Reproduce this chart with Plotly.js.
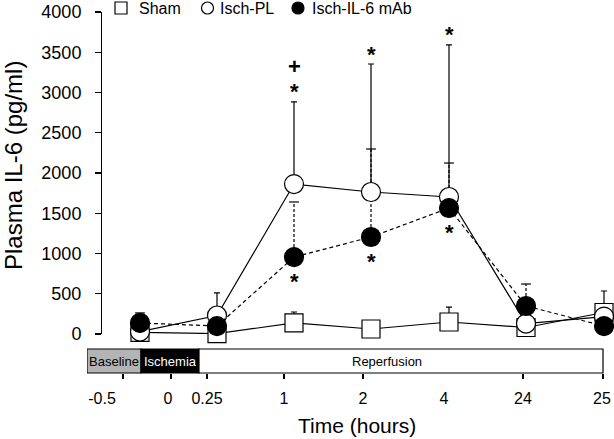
<!DOCTYPE html>
<html><head><meta charset="utf-8">
<script src="https://cdn.plot.ly/plotly-3.0.1.min.js"></script>
<style>html,body{margin:0;padding:0;background:#fff}#chart{width:614px;height:439px}</style>
</head><body><div id="chart"></div>
<script>
// ---------------- data ----------------
const sampleTimes = ['Baseline', '0.33', '1', '2', '4', '24', '25'];
const tickLabels  = ['-0.5', '0', '0.25', '1', '2', '4', '24', '25'];
const phaseNames  = ['Baseline', 'Ischemia', 'Reperfusion'];
const seriesNames = ['Sham', 'Isch-PL', 'Isch-IL-6 mAb'];
const sham       = [20, 5, 137, 62, 149, 81, 267];
const shamErr    = [0, 0, 136, 0, 186, 0, 267];
const ischPL     = [30, 230, 1863, 1764, 1702, 130, 217];
const ischPLErr  = [0, 280, 1020, 1590, 1890, 0, 0];
const ischIL6    = [137, 99, 956, 1205, 1565, 348, 99];
const ischIL6Err = [125, 0, 684, 1093, 559, 273, 0];
const sigPL      = ['', '', '*', '*', '*', '', ''];
const sigPL2     = ['', '', '+', '', '', '', ''];
const sigIL6     = ['', '', '*', '*', '*', '', ''];
const yTicks     = [0, 500, 1000, 1500, 2000, 2500, 3000, 3500, 4000];

// ---------------- broken time-axis geometry (axis units = px) ----------------
const samplePos = {'Baseline':140,'0.33':217,'1':294,'2':371,'4':449,'24':526,'25':604};
const tickPos   = {'-0.5':123,'0':171,'0.25':207,'1':284,'2':363,'24':523,'25':603};
const labelPos  = {'-0.5':102,'0':168,'0.25':207,'1':284,'2':363,'4':444,'24':523,'25':602};
const phaseBounds = [87, 141, 199, 603];
const phaseFill = ['#b4b4b4', '#000000', '#ffffff'];
const phaseText = ['#000000', '#ffffff', '#000000'];
const phaseLabelX = [114, 170, 387];
// legend key geometry (symbol centre, text start)
const legSym  = [121, 207.5, 298];
const legText = [137, 218, 310];
const legKind = ['rect', 'circle', 'circle'];
const legFill = ['#ffffff', '#ffffff', '#000000'];

const FONT = 'Liberation Sans, Arial, Helvetica, sans-serif';
const PW = 520, PH = 361, PTOP = 12;   // plot area size / top in px
const pyToPaper = py => (PTOP + PH - py) / PH;
const xs = sampleTimes.map(t => samplePos[t]);
const zeros = xs.map(() => 0);

function errY(arr){
  return {type:'data', symmetric:false, array:arr, arrayminus:zeros, color:'#000', thickness:1.2, width:3};
}

// dashed error bars for the antibody group
const ex = [], ey = [], cx = [], cy = [];
ischIL6.forEach((v, i) => {
  if (ischIL6Err[i] > 0) {
    ex.push(xs[i], xs[i], null); ey.push(v, v + ischIL6Err[i], null);
    cx.push(xs[i]); cy.push(v + ischIL6Err[i]);
  }
});

const traces = [
  {x: xs, y: sham, name: seriesNames[0], mode:'lines+markers', cliponaxis:false,
   line:{color:'#000', width:1.2}, error_y: errY(shamErr),
   marker:{symbol:'square', size:18, color:'#fff', line:{color:'#000', width:1.2}}},
  {x: ex, y: ey, mode:'lines', hoverinfo:'skip', cliponaxis:false,
   line:{color:'#000', width:1.2, dash:'3px,2px'}},
  {x: cx, y: cy, mode:'markers', hoverinfo:'skip', cliponaxis:false,
   marker:{symbol:'line-ew', size:7, line:{color:'#000', width:1.2}}},
  {x: xs, y: ischPL, name: seriesNames[1], mode:'lines+markers', cliponaxis:false,
   line:{color:'#000', width:1.2}, error_y: errY(ischPLErr),
   marker:{symbol:'circle', size:19, color:'#fff', line:{color:'#000', width:1.2}}},
  {x: xs, y: ischIL6, name: seriesNames[2], mode:'lines+markers', cliponaxis:false,
   line:{color:'#000', width:1.2, dash:'4px,3px'},
   marker:{symbol:'circle', size:19, color:'#000', line:{color:'#000', width:1.2}}},
  // carrier for the label axis
  {x:[null], y:[null], xaxis:'x2', mode:'markers', hoverinfo:'skip'}
];

const starFont = {size:22, color:'#000', family:FONT, weight:'bold'};
const ann = [];
sigPL.forEach((s, i) => { if (s) ann.push({x: xs[i], y: ischPL[i] + ischPLErr[i], text: s, showarrow:false, yanchor:'middle', yshift: 10, font:starFont}); });
sigPL2.forEach((s, i) => { if (s) ann.push({x: xs[i], y: ischPL[i] + ischPLErr[i], text: s, showarrow:false, yanchor:'middle', yshift: 35, font:starFont}); });
sigIL6.forEach((s, i) => { if (s) ann.push({x: xs[i], y: ischIL6[i], text: s, showarrow:false, yanchor:'middle', yshift: -24, font:starFont}); });

const shapes = [];
seriesNames.forEach((n, i) => {
  ann.push({xref:'x', yref:'paper', x: legText[i], y: pyToPaper(8), text: n, showarrow:false,
    xanchor:'left', yanchor:'middle', font:{size:16, color:'#000', family:FONT}});
  shapes.push({type: legKind[i], xref:'x', yref:'paper', x0: legSym[i] - 6, x1: legSym[i] + 6,
    y0: pyToPaper(14), y1: pyToPaper(2), fillcolor: legFill[i], line:{color:'#000', width:1.2}});
});

phaseNames.forEach((p, i) => {
  shapes.push({type:'rect', xref:'x', yref:'paper', x0: phaseBounds[i], x1: phaseBounds[i+1], y0: 0, y1: 24/PH,
    fillcolor: phaseFill[i], line:{color:'#000', width:1.2}, layer:'below'});
  ann.push({xref:'x', yref:'paper', x: phaseLabelX[i], y: 12/PH, text: p, showarrow:false,
    xanchor:'center', yanchor:'middle', font:{size:13, color: phaseText[i], family:FONT}});
});

ann.push({xref:'x', yref:'paper', x: 357, y: pyToPaper(425), text:'Time (hours)', showarrow:false,
  xanchor:'center', yanchor:'middle', font:{size:21, color:'#000', family:FONT}});
ann.push({xref:'paper', yref:'paper', x: (13-87)/PW, y: pyToPaper(166), text:'Plasma IL-6 (pg/ml)', textangle:-90,
  showarrow:false, xanchor:'center', yanchor:'middle', font:{size:24, color:'#000', family:FONT}});

const tickKeys = Object.keys(tickPos);
const layout = {
  width:614, height:439, margin:{l:87, r:7, t:PTOP, b:66, autoexpand:false},
  paper_bgcolor:'#fff', plot_bgcolor:'rgba(0,0,0,0)',
  font:{family:FONT, color:'#000', size:16},
  showlegend:false,
  xaxis:{range:[87,607], anchor:'free', position:0, showgrid:false, zeroline:false, showline:false,
         tickvals: tickKeys.map(k => tickPos[k]), ticks:'outside', ticklen:5, tickwidth:1.2, tickcolor:'#000',
         showticklabels:false, fixedrange:true},
  xaxis2:{range:[87,607], overlaying:'x', anchor:'free', position:0, side:'bottom', showgrid:false, zeroline:false, showline:false,
         tickvals: tickLabels.map(k => labelPos[k]), ticktext: tickLabels, ticks:'', ticklabelstandoff:14,
         tickfont:{size:16, family:FONT, color:'#000'}},
  yaxis:{domain:[39/PH, 1], range:[0,4000], anchor:'free', position:14/PW, showgrid:false, zeroline:false,
         showline:true, linecolor:'#000', linewidth:1.2, tickvals:yTicks, ticks:'outside', ticklen:6, tickwidth:1.2,
         tickcolor:'#000', ticklabelstandoff:10, tickfont:{size:18, family:FONT, color:'#000'}},
  shapes: shapes, annotations: ann
};

Plotly.newPlot('chart', traces, layout, {displayModeBar:false, staticPlot:true});
</script>
</body></html>
